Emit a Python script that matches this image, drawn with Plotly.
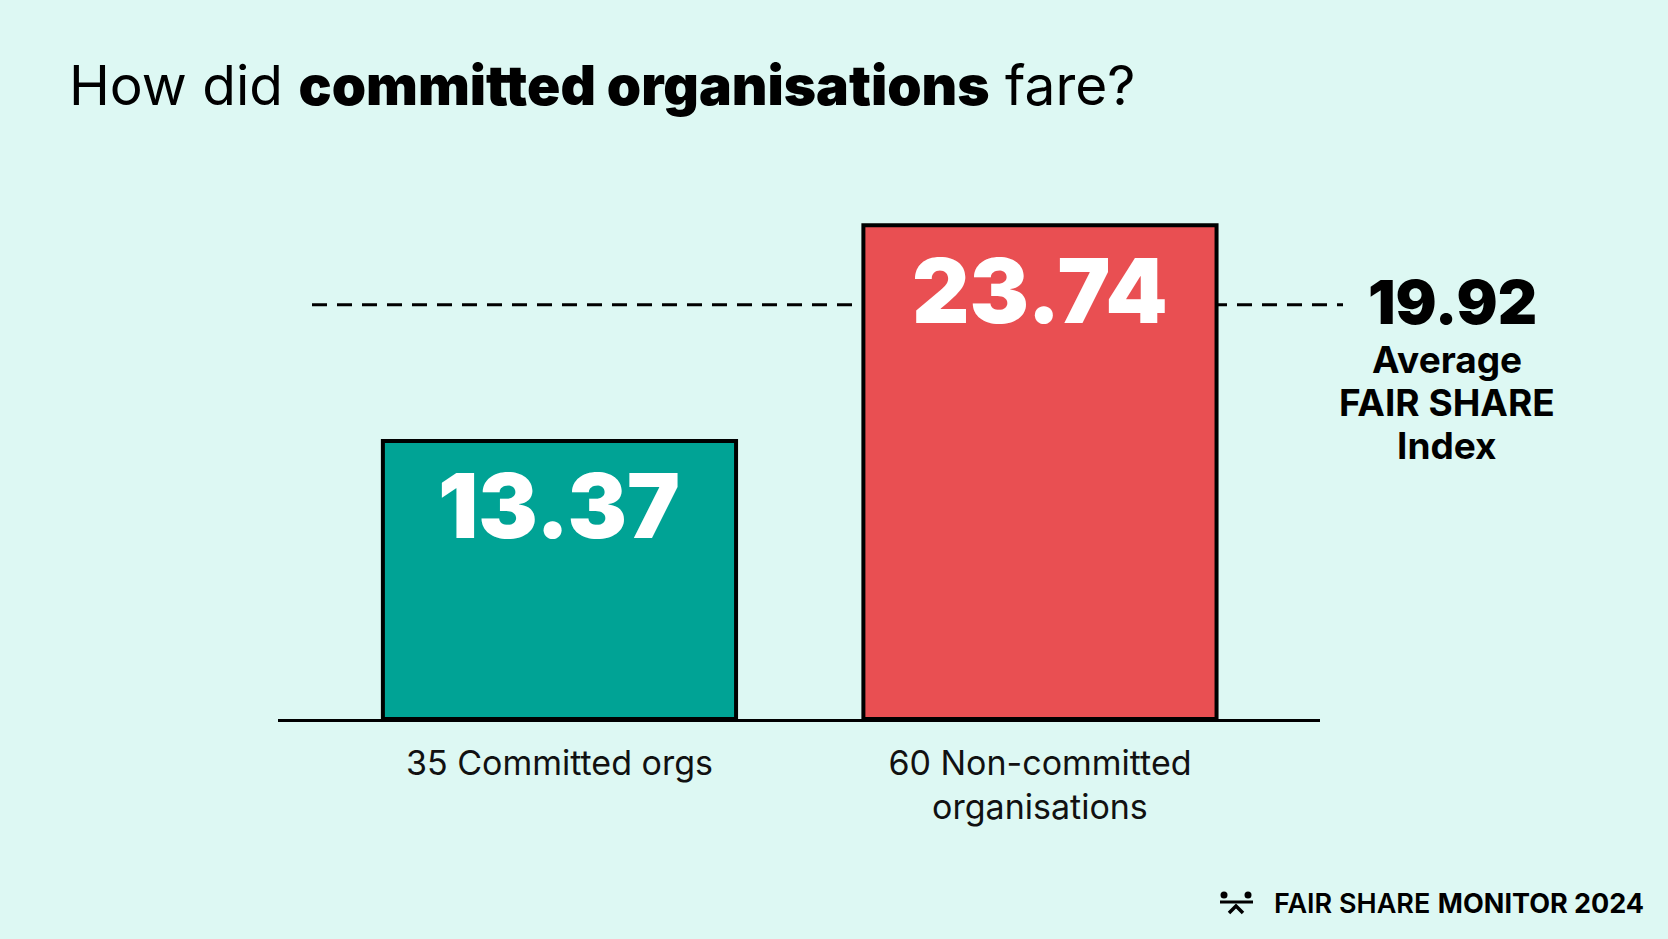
import plotly.graph_objects as go

# data
categories = ["35 Committed orgs", "60 Non-committed<br>organisations"]
index_values = [13.37, 23.74]
bar_colors = ["#00a395", "#e94f52"]
average_index = 19.92
average_lines = ["Average", "FAIR SHARE", "Index"]

W, H = 1668, 939
L, R, T, B = 278, 1320, 160, 719
PX_PER_UNIT = 20.8


def px(x):
    return (x - L) / (R - L)


def py(y):
    return (B - y) / (B - T)


fig = go.Figure(go.Bar(
    x=categories,
    y=index_values,
    width=0.735,
    marker=dict(color=bar_colors, line=dict(color="black", width=4)),
    hoverinfo="skip",
))

# average line, behind the bars
fig.add_shape(type="line", xref="paper", yref="y",
              x0=px(312), x1=px(1343), y0=average_index, y1=average_index,
              line=dict(color="black", width=3, dash="15px,10px"), layer="below")

# values inside bars
for cat, val in zip(categories, index_values):
    fig.add_annotation(x=cat, y=val, text=f"{val:.2f}", showarrow=False,
                       xanchor="center", yanchor="middle", yshift=-65,
                       font=dict(family="Inter", size=89, color="white", weight=900))

fig.add_annotation(xref="paper", x=px(1452), y=average_index, text=f"{average_index:.2f}",
                   showarrow=False, xanchor="center", yanchor="middle", yshift=3,
                   font=dict(family="Inter", size=61, color="black", weight=900))
for i, line in enumerate(average_lines):
    fig.add_annotation(xref="paper", x=px(1447), y=average_index, text=line,
                       showarrow=False, xanchor="center", yanchor="middle",
                       yshift=-55 - 43 * i,
                       font=dict(family="Inter", size=37, color="black", weight=700))

# logo, bottom right
fig.add_annotation(xref="paper", yref="paper", x=px(1272), y=py(903.5),
                   text='<span style="font-weight:600">FAIR SHARE</span> <b>MONITOR 2024</b>',
                   showarrow=False, xanchor="left", yanchor="middle",
                   font=dict(family="Inter", size=27, color="black"))
for cx in (1224, 1248):
    fig.add_shape(type="circle", xref="paper", yref="paper",
                  x0=px(cx - 3.5), x1=px(cx + 3.5), y0=py(895 + 3.5), y1=py(895 - 3.5),
                  fillcolor="black", line=dict(width=0))
fig.add_shape(type="line", xref="paper", yref="paper",
              x0=px(1220), x1=px(1253), y0=py(902), y1=py(902),
              line=dict(color="black", width=3))
fig.add_shape(type="path", xref="paper", yref="paper",
              path=f"M {px(1229)},{py(913)} L {px(1236)},{py(906)} L {px(1243)},{py(913)}",
              line=dict(color="black", width=3.5))

fig.update_layout(
    width=W, height=H,
    margin=dict(l=L, r=W - R, t=T, b=H - B),
    paper_bgcolor="#ddf8f3",
    plot_bgcolor="#ddf8f3",
    showlegend=False,
    title=dict(
        text='How did <span style="font-weight:900">committed organisations</span> fare?',
        x=69 / W, xanchor="left", xref="container",
        y=1 - 86 / H, yanchor="middle", yref="container",
        font=dict(family="Inter", size=55, color="black"),
    ),
    xaxis=dict(
        range=[-0.5858, 1.5828],
        showline=True, linecolor="black", linewidth=3,
        showgrid=False, zeroline=False, ticks="",
        ticklabelstandoff=12,
        tickfont=dict(family="Inter", size=34, color="#111111"),
    ),
    yaxis=dict(
        range=[0, (B - T) / PX_PER_UNIT],
        visible=False, showgrid=False, zeroline=False,
    ),
)

fig.write_html("out.html",
               config={"displayModeBar": False},
               post_script="document.body.style.margin='0';"
                           "document.body.style.background='#ddf8f3';")
